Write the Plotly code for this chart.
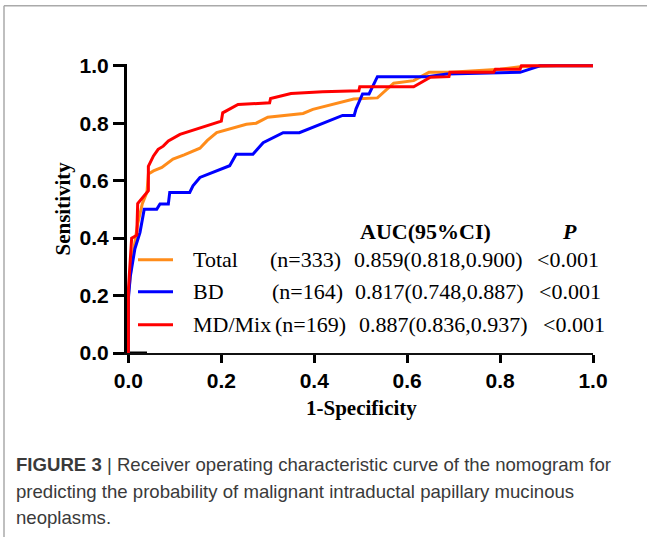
import plotly.graph_objects as go

# ---- data ----
total_x = [0, 0, 0.006, 0.015, 0.02, 0.03, 0.04, 0.043, 0.054, 0.072, 0.096, 0.12, 0.154, 0.17, 0.19,
           0.254, 0.275, 0.30, 0.376, 0.397, 0.418, 0.442, 0.485, 0.536, 0.571, 0.614, 0.647, 0.693,
           0.80, 0.843, 0.922, 1.0]
total_y = [0, 0.2, 0.3, 0.40, 0.45, 0.52, 0.56, 0.623, 0.634, 0.646, 0.675, 0.69, 0.713, 0.74, 0.767,
           0.796, 0.80, 0.821, 0.834, 0.848, 0.856, 0.867, 0.884, 0.888, 0.939, 0.948, 0.977, 0.977,
           0.988, 0.996, 1.0, 1.0]

bd_x = [0, 0, 0.004, 0.014, 0.025, 0.034, 0.061, 0.068, 0.086, 0.089, 0.132, 0.139, 0.154, 0.218, 0.232,
        0.268, 0.29, 0.333, 0.368, 0.461, 0.486, 0.49, 0.504, 0.518, 0.536, 0.643, 0.686, 0.843, 0.886, 1.0]
bd_y = [0, 0.19, 0.265, 0.363, 0.42, 0.50, 0.50, 0.519, 0.519, 0.559, 0.559, 0.582, 0.611, 0.652, 0.692,
        0.692, 0.732, 0.767, 0.767, 0.827, 0.827, 0.85, 0.902, 0.902, 0.962, 0.962, 0.971, 0.977, 1.0, 1.0]

mix_x = [0, 0, 0.007, 0.018, 0.02, 0.043, 0.043, 0.054, 0.064, 0.075, 0.086, 0.111, 0.20, 0.203, 0.236,
         0.304, 0.306, 0.35, 0.418, 0.496, 0.498, 0.614, 0.65, 0.69, 0.692, 0.786, 0.79, 0.843, 0.846, 1.0]
mix_y = [0, 0.22, 0.40, 0.41, 0.52, 0.565, 0.65, 0.686, 0.709, 0.72, 0.738, 0.761, 0.807, 0.836, 0.865,
         0.871, 0.886, 0.903, 0.909, 0.913, 0.927, 0.927, 0.96, 0.962, 0.977, 0.977, 0.988, 0.988, 1.0, 1.0]

base_x = [0, 0.04]
base_y = [0, 0]

series_names = ["Total", "BD", "MD/Mix"]
series_n = ["(n=333)", "(n=164)", "(n=169)"]
series_auc = ["0.859(0.818,0.900)", "0.817(0.748,0.887)", "0.887(0.836,0.937)"]
series_p = ["<0.001", "<0.001", "<0.001"]
series_colors = ["#FF8C1A", "#0000FF", "#FF0000"]

tick_vals = [0.0, 0.2, 0.4, 0.6, 0.8, 1.0]
tick_text = ["0.0", "0.2", "0.4", "0.6", "0.8", "1.0"]

caption_lines = [
    "<b>FIGURE 3</b> | Receiver operating characteristic curve of the nomogram for",
    "predicting the probability of malignant intraductal papillary mucinous",
    "neoplasms.",
]

# ---- geometry helpers (reference pixel -> paper) ----
W, H = 647, 537
L, R, T, B = 127, 593, 64.3, 353.3
def px(x):
    return (x - L) / (R - L)
def py(y):
    return (B - y) / (B - T)

fig = go.Figure()
fig.add_trace(go.Scatter(x=base_x, y=base_y, mode="lines", line=dict(color="black", width=3),
                         showlegend=False, hoverinfo="skip"))
for xs, ys, c, n in [(total_x, total_y, series_colors[0], series_names[0]),
                     (bd_x, bd_y, series_colors[1], series_names[1]),
                     (mix_x, mix_y, series_colors[2], series_names[2])]:
    fig.add_trace(go.Scatter(x=xs, y=ys, mode="lines", name=n,
                             line=dict(color=c, width=3, shape="linear"), showlegend=False))

serif = "Liberation Serif"
sans = "Liberation Sans"
FS = 22

def A(text, x, y, xa="center", ya="middle", **kw):
    d = dict(text=text, x=x, y=y, xref="paper", yref="paper", xanchor=xa, yanchor=ya,
             showarrow=False)
    d.update(kw)
    return d

ann = []
ann.append(A("<b>Sensitivity</b>", px(62), py(208.8), textangle=-90,
             font=dict(family=serif, size=21, color="black")))
ann.append(A("<b>1-Specificity</b>", px(361), py(408),
             font=dict(family=serif, size=21, color="black")))
ann.append(A("<b>AUC(95%CI)</b>", px(425), py(232), font=dict(family=serif, size=FS, color="black")))
ann.append(A("<b><i>P</i></b>", px(569), py(232), font=dict(family=serif, size=FS, color="black")))

row_y = [260, 292, 325]
col_label = [191, 191, 191]
col_n = [268, 269.5, 272.7]
col_auc = [352, 353.3, 357.3]
col_p = [535, 536.7, 540.7]
shapes = []
for i in range(3):
    f = dict(family=serif, size=FS, color="black")
    for txt, cx in [(series_names[i], col_label[i]), (series_n[i], col_n[i]),
                    (series_auc[i], col_auc[i]), (series_p[i], col_p[i])]:
        ann.append(A(txt, px(cx), py(row_y[i]), xa="left", font=f))
    shapes.append(dict(type="line", xref="paper", yref="paper", x0=px(138), x1=px(173),
                       y0=py(row_y[i]), y1=py(row_y[i]), line=dict(color=series_colors[i], width=3)))

cap_y = [465, 492, 518]
for t, yy in zip(caption_lines, cap_y):
    ann.append(A(t, px(14), py(yy), xa="left",
                 font=dict(family=sans, size=18.6, color="#3a3a3a")))

# frame
shapes.append(dict(type="line", xref="paper", yref="paper", x0=px(4), x1=px(700), y0=py(6), y1=py(6),
                   line=dict(color="#aaaaaa", width=1.5)))
shapes.append(dict(type="line", xref="paper", yref="paper", x0=px(4), x1=px(4), y0=py(6), y1=py(600),
                   line=dict(color="#aaaaaa", width=1.5)))

fig.update_layout(
    width=W, height=H,
    margin=dict(l=L, r=W - R, t=T, b=H - B, autoexpand=False),
    paper_bgcolor="white", plot_bgcolor="white",
    showlegend=False,
    annotations=ann, shapes=shapes,
    xaxis=dict(range=[-0.003, 1.0], tickvals=tick_vals, ticktext=tick_text, showgrid=False,
               zeroline=False, showline=True, linecolor="#111111", linewidth=2,
               ticks="outside", ticklen=8, tickwidth=2.5, tickcolor="black", automargin=False,
               tickfont=dict(family=sans, size=21, color="black", weight="bold")),
    yaxis=dict(range=[0, 1.006], tickvals=tick_vals, ticktext=tick_text, showgrid=False,
               zeroline=False, showline=True, linecolor="black", linewidth=3,
               ticks="outside", ticklen=11, tickwidth=2.5, tickcolor="black", automargin=False,
               tickfont=dict(family=sans, size=21, color="black", weight="bold")),
)

fig.write_html("out.html", config={"displayModeBar": False},
               post_script="document.body.style.margin='0';document.body.style.overflow='hidden';")
